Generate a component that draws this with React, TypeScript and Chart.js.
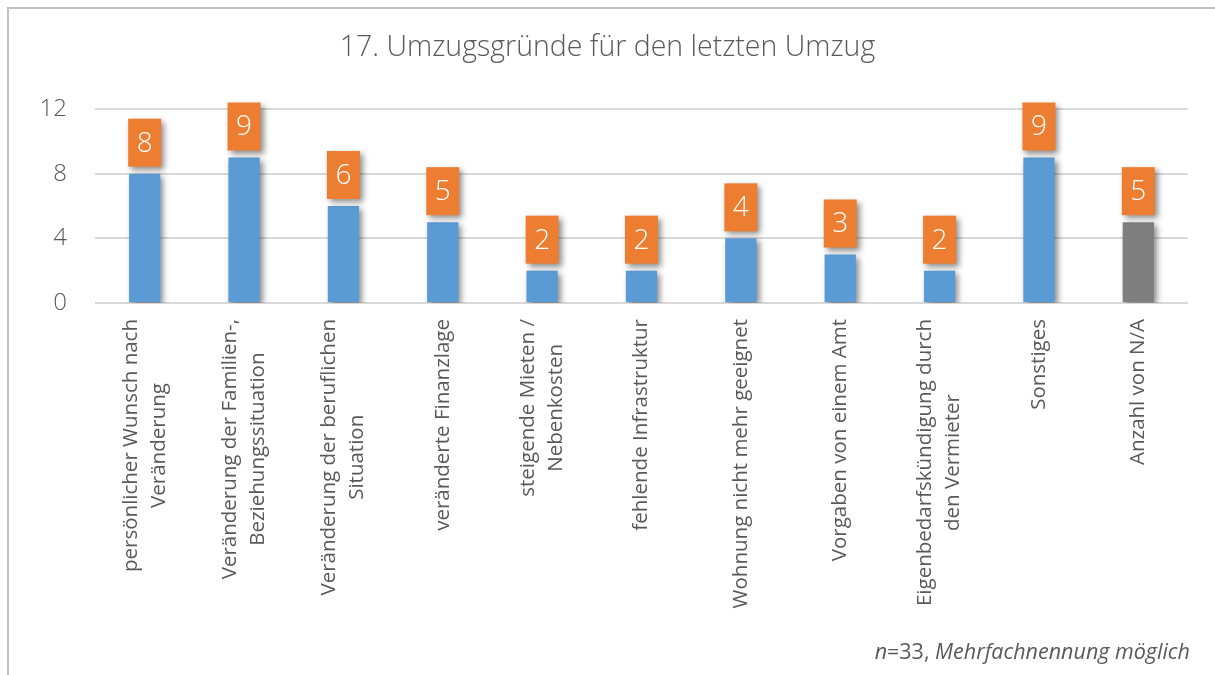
import React, { useEffect, useRef } from "react";
import { Chart, registerables } from "chart.js";

Chart.register(...registerables);

const titleText = "17. Umzugsgründe für den letzten Umzug";

const categories: string[][] = [
  ["persönlicher Wunsch nach", "Veränderung"],
  ["Veränderung der Familien-,", "Beziehungssituation"],
  ["Veränderung der beruflichen", "Situation"],
  ["veränderte Finanzlage"],
  ["steigende Mieten /", "Nebenkosten"],
  ["fehlende Infrastruktur"],
  ["Wohnung nicht mehr geeignet"],
  ["Vorgaben von einem Amt"],
  ["Eigenbedarfskündigung durch", "den Vermieter"],
  ["Sonstiges"],
  ["Anzahl von N/A"],
];

const values = [8, 9, 6, 5, 2, 2, 4, 3, 2, 9, 5];

const barColors = [
  "#5B9BD5", "#5B9BD5", "#5B9BD5", "#5B9BD5", "#5B9BD5", "#5B9BD5",
  "#5B9BD5", "#5B9BD5", "#5B9BD5", "#5B9BD5", "#7F7F7F",
];

const yMin = 0;
const yMax = 12;
const yStep = 4;

const footnoteParts = [
  { text: "n", italic: true },
  { text: "=33, ", italic: false },
  { text: "Mehrfachnennung möglich", italic: true },
];

const FONT = "'Open Sans', 'DejaVu Sans', sans-serif";
const TEXT_COLOR = "#595959";

const shadowPlugin = {
  id: "barShadow",
  beforeDatasetsDraw(chart: any) {
    const ctx = chart.ctx;
    ctx.save();
    ctx.shadowColor = "rgba(0,0,0,0.45)";
    ctx.shadowBlur = 6;
    ctx.shadowOffsetX = 3;
    ctx.shadowOffsetY = 3;
  },
  afterDatasetsDraw(chart: any) {
    chart.ctx.restore();
  },
};

const labelBoxPlugin = {
  id: "labelBoxes",
  afterDatasetsDraw(chart: any) {
    const ctx = chart.ctx;
    const meta = chart.getDatasetMeta(0);
    const ds = chart.data.datasets[0];
    meta.data.forEach((bar: any, i: number) => {
      const w = 33;
      const h = 48;
      const x = bar.x - w / 2;
      const y = bar.y - 7 - h;
      ctx.save();
      ctx.shadowColor = "rgba(0,0,0,0.45)";
      ctx.shadowBlur = 6;
      ctx.shadowOffsetX = 3;
      ctx.shadowOffsetY = 3;
      ctx.fillStyle = "#ED7D31";
      ctx.fillRect(x, y, w, h);
      ctx.restore();
      ctx.save();
      ctx.fillStyle = "#FFFFFF";
      ctx.font = `300 28px ${FONT}`;
      ctx.textAlign = "center";
      ctx.textBaseline = "middle";
      ctx.fillText(String(ds.data[i]), bar.x, y + h / 2 + 1);
      ctx.restore();
    });
  },
};

const xLabelPlugin = {
  id: "xLabels",
  afterDraw(chart: any) {
    const ctx = chart.ctx;
    const xs = chart.scales.x;
    const top = chart.chartArea.bottom + 16;
    const lineH = 28;
    ctx.save();
    ctx.font = `20.5px ${FONT}`;
    ctx.fillStyle = TEXT_COLOR;
    ctx.textAlign = "center";
    ctx.textBaseline = "middle";
    (chart.data.labels as string[][]).forEach((lines, i) => {
      const x = xs.getPixelForValue(i);
      let maxW = 0;
      lines.forEach((l) => (maxW = Math.max(maxW, ctx.measureText(l).width)));
      ctx.save();
      ctx.translate(x, top + maxW / 2);
      ctx.rotate(-Math.PI / 2);
      const n = lines.length;
      lines.forEach((l, j) => {
        ctx.fillText(l, 0, (j - (n - 1) / 2) * lineH);
      });
      ctx.restore();
    });
    ctx.restore();

    // footnote
    ctx.save();
    ctx.fillStyle = TEXT_COLOR;
    ctx.textBaseline = "alphabetic";
    ctx.textAlign = "left";
    let total = 0;
    const widths = footnoteParts.map((p) => {
      ctx.font = `${p.italic ? "italic " : ""}21.5px ${FONT}`;
      const w = ctx.measureText(p.text).width;
      total += w;
      return w;
    });
    let fx = 1190 - total;
    footnoteParts.forEach((p, i) => {
      ctx.font = `${p.italic ? "italic " : ""}21.5px ${FONT}`;
      ctx.fillText(p.text, fx, 659);
      fx += widths[i];
    });
    ctx.restore();
  },
};

export default function App() {
  const canvasRef = useRef<HTMLCanvasElement | null>(null);

  useEffect(() => {
    const canvas = canvasRef.current;
    if (!canvas) return;
    const chart = new Chart(canvas, {
      type: "bar",
      data: {
        labels: categories as any,
        datasets: [
          {
            data: values,
            backgroundColor: barColors,
            borderWidth: 0,
            barPercentage: 0.315,
            categoryPercentage: 1,
            yAxisID: "y",
          },
        ],
      },
      options: {
        animation: false,
        responsive: false,
        events: [],
        layout: { padding: { left: 0, right: 0, top: 0, bottom: 372 } },
        plugins: {
          legend: { display: false },
          tooltip: { enabled: false },
          title: {
            display: true,
            text: titleText,
            color: TEXT_COLOR,
            font: { family: FONT, size: 28.5, weight: "300" as any },
            padding: { top: 31, bottom: 43.8 },
          },
        },
        scales: {
          x: {
            display: false,
            offset: true,
            grid: { display: false },
          },
          y: {
            min: yMin,
            max: yMax,
            afterFit(scale: any) {
              scale.width = 95;
            },
            ticks: {
              stepSize: yStep,
              color: TEXT_COLOR,
              padding: 28,
              font: { family: FONT, size: 24, weight: "300" as any },
            },
            grid: { color: "#D9D9D9", lineWidth: 2, drawTicks: false },
            border: { display: false },
          },
          yRight: {
            position: "right",
            min: yMin,
            max: yMax,
            afterFit(scale: any) {
              scale.width = 27;
            },
            ticks: { display: false },
            grid: { display: false, drawTicks: false },
            border: { display: false },
          },
        },
      },
      plugins: [shadowPlugin, labelBoxPlugin, xLabelPlugin],
    });
    return () => chart.destroy();
  }, []);

  return (
    <div>
      <div
        style={{
          position: "fixed",
          left: 7,
          top: 7,
          width: 1300,
          height: 800,
          border: "2px solid #BFBFBF",
          background: "#FFFFFF",
        }}
      />
      <canvas
        ref={canvasRef}
        width={1215}
        height={675}
        style={{ position: "fixed", left: 0, top: 0, width: 1215, height: 675 }}
      />
    </div>
  );
}
